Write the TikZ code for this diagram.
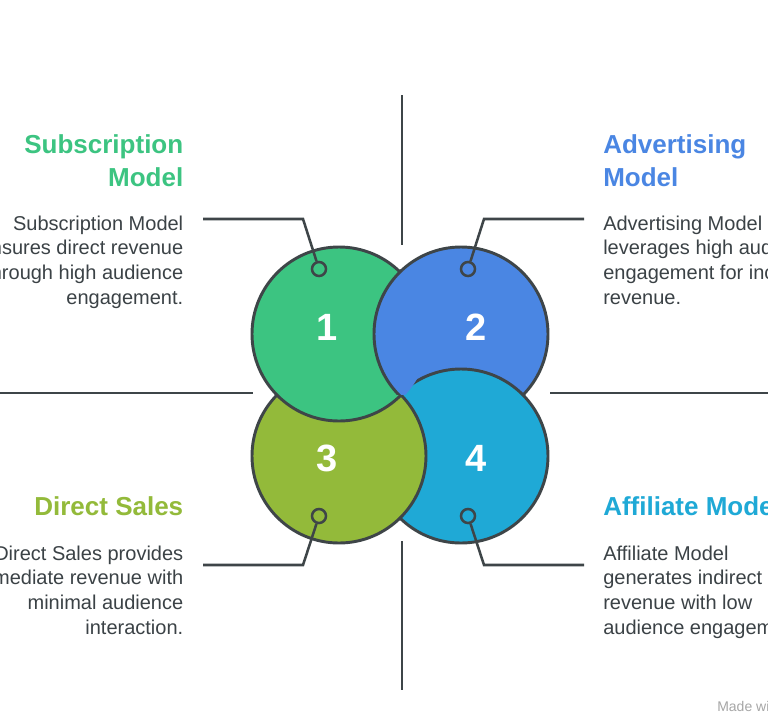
\documentclass[tikz,border=0pt]{standalone}
\usepackage{fontspec}
\setmainfont{Liberation Sans}
\usepackage{tikz}
\definecolor{subgreen}{HTML}{3CC481}
\definecolor{advblue}{HTML}{4A86E3}
\definecolor{salelime}{HTML}{93BA3A}
\definecolor{affcyan}{HTML}{1FA9D6}
\definecolor{edgegray}{HTML}{3E4548}
\definecolor{bodygray}{HTML}{3B4246}

\begin{document}
\begin{tikzpicture}[x=0.75pt, y=-0.75pt,
  ball/.style={circle, draw=edgegray, line width=2.2pt, inner sep=0pt, minimum size=130.5pt},
  pin/.style={circle, draw=edgegray, line width=1.9pt, inner sep=0pt, minimum size=10.5pt},
  num/.style={text=white, font=\bfseries\fontsize{28.5}{28.5}\selectfont},
  head/.style={inner sep=0pt, font=\bfseries\fontsize{19.5}{24.75}\selectfont},
  body/.style={inner sep=0pt, text=bodygray, font=\fontsize{15}{18.45}\selectfont},
  rule/.style={draw=edgegray, line width=1.9pt}]
\useasboundingbox (0,0) rectangle (768,726);
\fill[white] (0,0) rectangle (768,726);
% cross
\draw[rule] (402,95) -- (402,245);
\draw[rule] (402,541) -- (402,690);
\draw[rule] (0,393) -- (253,393);
\draw[rule] (550,393) -- (768,393);
% circles
\node[ball, fill=advblue] (ball2) at (461,334) {};
\node[ball, fill=affcyan] (ball4) at (461,456) {};
\node[ball, fill=salelime] (ball3) at (339,456) {};
\node[ball, fill=subgreen] (ball1) at (339,334) {};
\begin{scope}
\clip (300,240) rectangle (440,394);
\clip (ball1.center) circle[radius=67.5pt];
\draw[edgegray, line width=2.2pt, fill=advblue] (ball2.center) circle[radius=65.25pt];
\end{scope}
\node[num] (n1) at (327,327) {1};
\node[num] (n2) at (476,327) {2};
\node[num] (n3) at (327,458) {3};
\node[num] (n4) at (476,458) {4};
% pins and leaders
\node[pin, fill=subgreen] (pin1) at (319,269) {};
\node[pin, fill=advblue] (pin2) at (468,269) {};
\node[pin, fill=salelime] (pin3) at (319,516) {};
\node[pin, fill=affcyan] (pin4) at (468,516) {};
\coordinate (lead1) at (203,219);
\coordinate (bend1) at (303,219);
\coordinate (lead2) at (584,219);
\coordinate (bend2) at (484,219);
\coordinate (lead3) at (203,565);
\coordinate (bend3) at (303,565);
\coordinate (lead4) at (584,565);
\coordinate (bend4) at (484,565);
\draw[rule] (lead1) -- (bend1) -- (pin1);
\draw[rule] (lead2) -- (bend2) -- (pin2);
\draw[rule] (lead3) -- (bend3) -- (pin3);
\draw[rule] (lead4) -- (bend4) -- (pin4);
% texts (base = last line)
\node[head, text=subgreen, align=right, anchor=base east] (head1) at (183.5,186) {Subscription\\Model};
\node[body, align=right, anchor=base east] (text1) at (183.5,304) {Subscription Model\\ensures direct revenue\\through high audience\\engagement.};
\node[head, text=advblue, align=left, anchor=base west] (head2) at (603,186) {Advertising\\Model};
\node[body, align=left, anchor=base west] (text2) at (603,304) {Advertising Model\\leverages high audience\\engagement for increased\\revenue.};
\node[head, text=salelime, anchor=base east] (head3) at (183.5,515) {Direct Sales};
\node[body, align=right, anchor=base east] (text3) at (183.5,634) {Direct Sales provides\\immediate revenue with\\minimal audience\\interaction.};
\node[head, text=affcyan, anchor=base west] (head4) at (603,515) {Affiliate Model};
\node[body, align=left, anchor=base west] (text4) at (603,634) {Affiliate Model\\generates indirect\\revenue with low\\audience engagement.};
\node[inner sep=0pt, text=black!35, font=\fontsize{10.5}{12}\selectfont, anchor=base west] (mark) at (717,711) {Made with Napkin};
\end{tikzpicture}
\end{document}
